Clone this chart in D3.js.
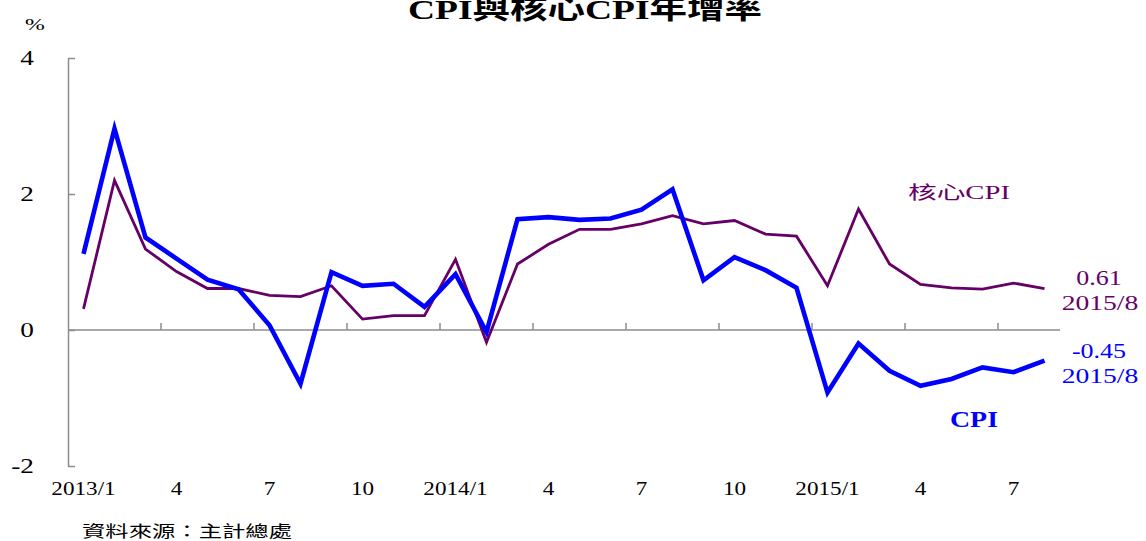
<!DOCTYPE html>
<html>
<head>
<meta charset="utf-8">
<script src="https://cdnjs.cloudflare.com/ajax/libs/d3/7.8.5/d3.min.js"></script>
<style>
  body { margin: 0; background: #fff; }
  svg { display: block; }
  text { font-family: "Liberation Serif", "Noto Sans CJK TC", serif; }
</style>
</head>
<body>
<div id="chart"></div>
<script>
// data
var months = ["2013/1","2013/2","2013/3","2013/4","2013/5","2013/6","2013/7","2013/8","2013/9","2013/10","2013/11","2013/12",
              "2014/1","2014/2","2014/3","2014/4","2014/5","2014/6","2014/7","2014/8","2014/9","2014/10","2014/11","2014/12",
              "2015/1","2015/2","2015/3","2015/4","2015/5","2015/6","2015/7","2015/8"];
var monthLabels = ["2013/1","4","7","10","2014/1","4","7","10","2015/1","4","7"];
var cpi  = [1.12, 2.96, 1.36, 1.05, 0.74, 0.60, 0.07, -0.79, 0.85, 0.65, 0.68, 0.34,
            0.82, -0.03, 1.63, 1.66, 1.62, 1.64, 1.77, 2.07, 0.73, 1.07, 0.88, 0.62,
            -0.92, -0.20, -0.60, -0.82, -0.72, -0.55, -0.62, -0.45];
var core = [0.31, 2.20, 1.19, 0.86, 0.61, 0.61, 0.51, 0.49, 0.65, 0.16, 0.21, 0.21,
            1.04, -0.18, 0.97, 1.26, 1.48, 1.48, 1.56, 1.68, 1.56, 1.61, 1.41, 1.38,
            0.65, 1.78, 0.97, 0.67, 0.62, 0.60, 0.69, 0.61];
var yTicks = [-2, 0, 2, 4];

var blue = "#0000ff", purple = "#660066", axisGray = "#8c8c8c";

var svg = d3.select("#chart").append("svg")
    .attr("width", 1146).attr("height", 541);

var x = d3.scaleBand().domain(months).range([68, 1060]);
var bw = x.bandwidth();
var y = d3.scaleLinear().domain([-2, 4]).range([466, 58]);

function cx(i) { return x(months[i]) + bw / 2; }

// y axis (ticks pointing inward)
var yAxis = d3.axisRight(y).tickValues(yTicks).tickSize(7).tickSizeOuter(0).tickFormat("");
var gy = svg.append("g").attr("transform", "translate(68,0)").call(yAxis);
gy.selectAll("path, line").attr("stroke", axisGray).attr("stroke-width", 1.5);

svg.selectAll(".ylab").data(yTicks).enter().append("text")
    .attr("class", "ylab")
    .attr("text-anchor", "end")
    .attr("font-size", 21)
    .attr("transform", function(d) { return "translate(34," + (y(d) + 7) + ") scale(1.3,1)"; })
    .text(function(d) { return d; });

// zero line with month ticks
svg.append("line")
    .attr("x1", 68).attr("x2", 1060)
    .attr("y1", y(0)).attr("y2", y(0))
    .attr("stroke", axisGray).attr("stroke-width", 1.5);

var tickIdx = d3.range(3, months.length, 3);
svg.selectAll(".xtick").data(tickIdx).enter().append("line")
    .attr("class", "xtick")
    .attr("x1", function(i) { return x(months[i]); })
    .attr("x2", function(i) { return x(months[i]); })
    .attr("y1", y(0)).attr("y2", y(0) - 7)
    .attr("stroke", axisGray).attr("stroke-width", 1.5);

svg.selectAll(".xlab").data(monthLabels).enter().append("text")
    .attr("class", "xlab")
    .attr("text-anchor", "middle")
    .attr("font-size", 19)
    .attr("transform", function(d, k) { return "translate(" + cx(k * 3) + ",495) scale(1.22,1)"; })
    .text(function(d) { return d; });

// lines
var line = d3.line()
    .x(function(d, i) { return cx(i); })
    .y(function(d) { return y(d); });

svg.append("path").datum(core)
    .attr("d", line)
    .attr("fill", "none")
    .attr("stroke", purple)
    .attr("stroke-width", 2.8);

svg.append("path").datum(cpi)
    .attr("d", line)
    .attr("fill", "none")
    .attr("stroke", blue)
    .attr("stroke-width", 4.6);

// title, unit, source
svg.append("text")
    .attr("x", 408).attr("y", 19)
    .attr("font-size", 28).attr("font-weight", "bold")
    .attr("textLength", 354).attr("lengthAdjust", "spacingAndGlyphs")
    .text("CPI與核心CPI年增率");

svg.append("text")
    .attr("transform", "translate(25,30) scale(1.4,1)")
    .attr("font-size", 17)
    .text("%");

svg.append("text")
    .attr("x", 82).attr("y", 537)
    .attr("font-size", 16)
    .attr("textLength", 210).attr("lengthAdjust", "spacingAndGlyphs")
    .text("資料來源：主計總處");

// series labels
var last = months.length - 1;

svg.append("text")
    .attr("x", 908).attr("y", 199)
    .attr("font-size", 18).attr("fill", purple)
    .attr("textLength", 102).attr("lengthAdjust", "spacingAndGlyphs")
    .text("核心CPI");

svg.append("text")
    .attr("x", 950).attr("y", 427)
    .attr("font-size", 23).attr("font-weight", "bold").attr("fill", blue)
    .attr("textLength", 48).attr("lengthAdjust", "spacingAndGlyphs")
    .text("CPI");

function endLabel(val, col, baseY) {
    svg.append("text")
        .attr("text-anchor", "middle").attr("font-size", 20).attr("fill", col)
        .attr("transform", "translate(1099," + baseY + ") scale(1.3,1)")
        .text(val.toFixed(2));
    svg.append("text")
        .attr("text-anchor", "middle").attr("font-size", 20).attr("fill", col)
        .attr("transform", "translate(1100," + (baseY + 25) + ") scale(1.38,1)")
        .text(months[last]);
}
endLabel(core[last], purple, y(core[last]) - 4);
endLabel(cpi[last], blue, y(cpi[last]) - 3);
</script>
</body>
</html>
